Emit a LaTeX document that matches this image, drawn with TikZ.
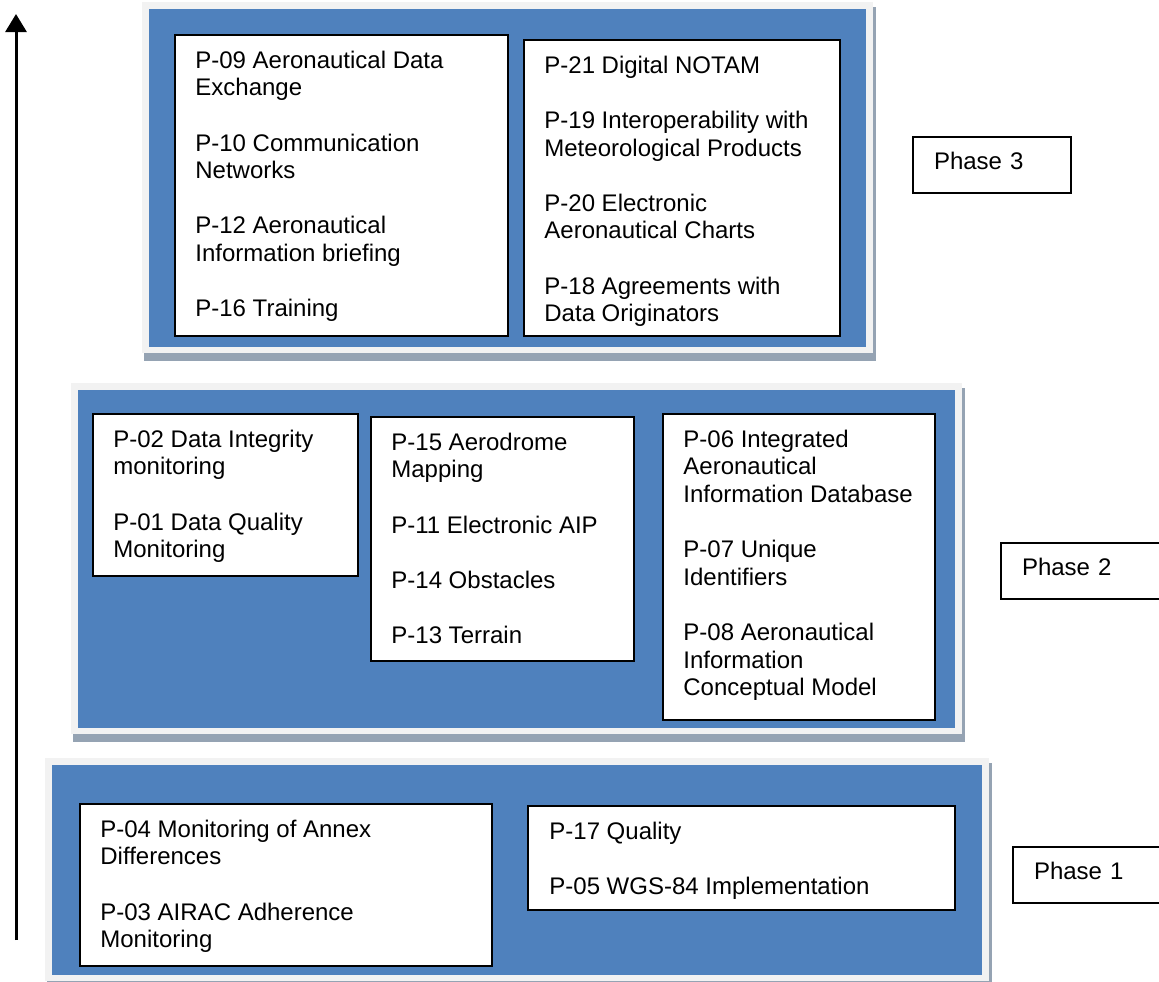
\documentclass[tikz,border=0pt]{standalone}
\usepackage{fontspec}
\setmainfont{Liberation Sans}
\usetikzlibrary{positioning, fit, arrows.meta}

\definecolor{panelblue}{RGB}{79,129,189}
\definecolor{panelrim}{RGB}{242,242,242}
\definecolor{panelshade}{RGB}{149,163,179}

\tikzset{
  item/.style={draw, line width=1pt, fill=white, inner sep=0pt},
  itemtext/.style={font=\fontsize{12}{13.8}\selectfont, align=left, inner sep=0pt},
  phasebox/.style={draw, line width=1pt, fill=white, anchor=north west,
    text height=8pt, text depth=4pt, inner ysep=8pt,
    inner xsep=10.5pt, align=left, font=\fontsize{12}{13.8}\selectfont}
}

\begin{document}
\begin{tikzpicture}[x=0.5pt, y=-0.5pt]
    \useasboundingbox (0,0) rectangle (1159,981);

    % Draw the three phase panels
    \foreach \x/\y/\X/\Y in {142/2/873/353, 71/383/962/734, 45/758/989/981} {
      \fill[panelshade] (\x+2,\y+5) rectangle (\X+3,\Y+8);
      \fill[panelrim] (\x,\y) rectangle (\X,\Y);
      \fill[panelblue] (\x+7,\y+7) rectangle (\X-7,\Y-6);
    }

    % Phase 3
    \node[item, fit={(175,35) (508,336)}] (p3left) {};
    \node[itemtext, below right=8.2pt and 10.5pt of p3left.north west] (p3lefttext)
      {P-09 Aeronautical Data\\Exchange\\[13.8pt]P-10 Communication\\Networks\\[13.8pt]P-12 Aeronautical\\Information briefing\\[13.8pt]P-16 Training};
    \node[item, fit={(524,40) (840,336)}] (p3right) {};
    \node[itemtext, below right=8.2pt and 10.5pt of p3right.north west] (p3righttext)
      {P-21 Digital NOTAM\\[13.8pt]P-19 Interoperability with\\Meteorological Products\\[13.8pt]P-20 Electronic\\Aeronautical Charts\\[13.8pt]P-18 Agreements with\\Data Originators};

    % Phase 2
    \node[item, fit={(93,414) (358,576)}] (p2left) {};
    \node[itemtext, below right=8.2pt and 10.5pt of p2left.north west] (p2lefttext)
      {P-02 Data Integrity\\monitoring\\[13.8pt]P-01 Data Quality\\Monitoring};
    \node[item, fit={(371,417) (634,661)}] (p2mid) {};
    \node[itemtext, below right=8.2pt and 10.5pt of p2mid.north west] (p2midtext)
      {P-15 Aerodrome\\Mapping\\[13.8pt]P-11 Electronic AIP\\[13.8pt]P-14 Obstacles\\[13.8pt]P-13 Terrain};
    \node[item, fit={(663,414) (935,720)}] (p2right) {};
    \node[itemtext, below right=8.2pt and 10.5pt of p2right.north west] (p2righttext)
      {P-06 Integrated\\Aeronautical\\Information Database\\[13.8pt]P-07 Unique\\Identifiers\\[13.8pt]P-08 Aeronautical\\Information\\Conceptual Model};

    % Phase 1
    \node[item, fit={(80,804) (492,966)}] (p1left) {};
    \node[itemtext, below right=8.2pt and 10.5pt of p1left.north west] (p1lefttext)
      {P-04 Monitoring of Annex\\Differences\\[13.8pt]P-03 AIRAC Adherence\\Monitoring};
    \node[item, fit={(528,806) (955,910)}] (p1right) {};
    \node[itemtext, below right=8.2pt and 11pt of p1right.north west] (p1righttext)
      {P-17 Quality\\[13.8pt]P-05 WGS-84 Implementation};

    % Phase labels
    \foreach \n/\x/\y/\w in {3/912/136/58, 2/1000/542/80, 1/1012/846/80} {
      \node[phasebox, text width=\w pt] (phase\n) at (\x,\y) {Phase \n};
    }

    % Draw the upward arrow
    \coordinate (arrowfoot) at (16,940);
    \coordinate (arrowtip) at (16,14);
    \draw[line width=1.5pt, -{Triangle[width=10.5pt,length=9pt]}] (arrowfoot) -- (arrowtip);

\end{tikzpicture}
\end{document}
